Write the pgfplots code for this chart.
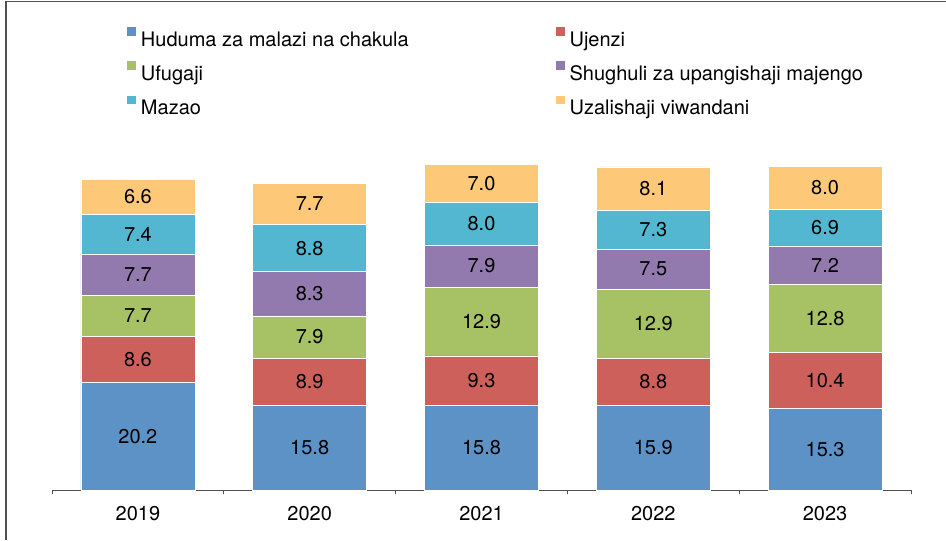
\documentclass[border=0pt]{standalone}
\usepackage{pgfplots}
\pgfplotsset{compat=1.18}
\usepackage{pgfplotstable}
\usepackage{fontspec}
\setmainfont{TeX Gyre Heros}
\definecolor{cHud}{RGB}{93,146,199}
\definecolor{cUje}{RGB}{205,96,90}
\definecolor{cUfu}{RGB}{167,193,101}
\definecolor{cShu}{RGB}{146,122,175}
\definecolor{cMaz}{RGB}{83,183,209}
\definecolor{cUza}{RGB}{253,200,120}
\definecolor{axisgray}{RGB}{80,80,80}
\pgfplotstableread{
x hud uje ufu shu maz uza
0 20.2 8.6 7.7 7.7 7.4 6.6
1 15.8 8.9 7.9 8.3 8.8 7.7
2 15.8 9.3 12.9 7.9 8.0 7.0
3 15.9 8.8 12.9 7.5 7.3 8.1
4 15.3 10.4 12.8 7.2 6.9 8.0
}\datatable
\begin{document}
\begin{tikzpicture}
\useasboundingbox (0,0) rectangle (473pt,270pt);
\draw[line width=0.6pt, axisgray] (3pt,0) -- (3pt,269.2pt) -- (473pt,269.2pt);
\begin{axis}[
  anchor=south west, at={(26pt,25pt)},
  x=85.9pt, y=2.67pt,
  xmin=-0.5, xmax=4.5, ymin=0, ymax=70,
  ybar stacked, bar width=57pt,
  axis y line=none,
  axis x line=bottom,
  x axis line style={-, axisgray, line width=0.5pt},
  xtick={0,1,2,3,4}, xticklabels={2019,2020,2021,2022,2023},
  minor xtick={-0.5,0.5,1.5,2.5,3.5,4.5},
  tick align=outside,
  major tick length=0pt,
  minor tick length=2.2pt,
  every minor tick/.style={axisgray, line width=0.5pt},
  ytick=\empty,
  xticklabel style={font=\fontsize{10}{12}\selectfont, yshift=-4.8pt, text=black},
  legend columns=2,
  legend cell align=left,
  legend style={draw=none, fill=none, at={(0.0873,1.2387)}, anchor=north west,
    inner sep=0pt, row sep=5.5pt, column sep=2.5pt,
    nodes={inner sep=0pt, text height=7.5pt, text depth=2.2pt, font=\fontsize{10}{12}\selectfont}},
  legend image code/.code={\fill[#1, draw=none] (0pt,2.4pt) rectangle (4.3pt,6.7pt);},
  visualization depends on={rawy \as \rawyval},
  nodes near coords={\pgfmathprintnumber[fixed,fixed zerofill,precision=1,assume math mode=true]{\rawyval}},
  every node near coord/.append style={anchor=center,
    font=\fontsize{10}{12}\selectfont, text=black},
]
\addplot[fill=cHud, draw=white, line width=0.3pt] table[x=x,y=hud]{\datatable};
\addlegendentry{\makebox[205pt][l]{Huduma za malazi na chakula}}
\addplot[fill=cUje, draw=white, line width=0.3pt] table[x=x,y=uje]{\datatable};
\addlegendentry{Ujenzi}
\addplot[fill=cUfu, draw=white, line width=0.3pt] table[x=x,y=ufu]{\datatable};
\addlegendentry{\makebox[205pt][l]{Ufugaji}}
\addplot[fill=cShu, draw=white, line width=0.3pt] table[x=x,y=shu]{\datatable};
\addlegendentry{Shughuli za upangishaji majengo}
\addplot[fill=cMaz, draw=white, line width=0.3pt] table[x=x,y=maz]{\datatable};
\addlegendentry{\makebox[205pt][l]{Mazao}}
\addplot[fill=cUza, draw=white, line width=0.3pt] table[x=x,y=uza]{\datatable};
\addlegendentry{Uzalishaji viwandani}
\end{axis}
\end{tikzpicture}
\end{document}
